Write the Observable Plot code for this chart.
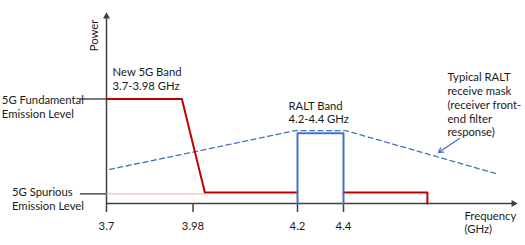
<!DOCTYPE html>
<html>
<head>
<meta charset="utf-8">
<script src="https://cdn.jsdelivr.net/npm/d3@7"></script>
<script src="https://cdn.jsdelivr.net/npm/@observablehq/plot@0.6"></script>
<style>
  html, body { margin: 0; padding: 0; background: #fff; }
  svg { display: block; }
</style>
</head>
<body>
<div id="chart"></div>
<script>
// Schematic frequency axis (GHz) and arbitrary power units
const xTicks = [3.7, 3.98, 4.2, 4.4];
const xTickLabels = ["3.7", "3.98", "4.2", "4.4"];

const fundamentalLevel = 55.3;
const spuriousLevel = 5.1;

// New 5G emission (red)
const emissionInBand = [
  {f: 3.7, p: 55.3}, {f: 3.944, p: 55.3}, {f: 4.005, p: 5.8}, {f: 4.2, p: 5.8}
];
const emissionAbove = [
  {f: 4.4, p: 5.8}, {f: 4.765, p: 5.8}, {f: 4.765, p: 0}
];
// faint spurious reference line
const spuriousRef = [{f: 3.7, p: 5.1}, {f: 4.005, p: 5.1}];

// RALT band (blue box)
const raltBand = [
  {f: 4.2, p: 0}, {f: 4.2, p: 37.2}, {f: 4.4, p: 37.2}, {f: 4.4, p: 0}
];

// Typical RALT receive mask (dashed)
const raltMask = [
  {f: 3.71, p: 18.0}, {f: 4.196, p: 38.6}, {f: 4.409, p: 38.6}, {f: 5.061, p: 15.9}
];

// annotation text
const labels = [
  {f: 3.3613, p: 57.8, text: "5G Fundamental\nEmission Level"},
  {f: 3.394, p: 8.9, text: "5G Spurious\nEmission Level"},
  {f: 3.7195, p: 72.4, text: "New 5G Band\n3.7-3.98 GHz"},
  {f: 4.181, p: 54.9, text: "RALT Band\n4.2-4.4 GHz"},
  {f: 4.852, p: 69.8, text: "Typical RALT\nreceive mask\n(receiver front-\nend filter\nresponse)"},
  {f: 4.926, p: -3.3, text: "Frequency\n(GHz)"}
];
const yLevels = [fundamentalLevel, spuriousLevel];
const pointer = [{f1: 4.905, p1: 34.4, f2: 4.813, p2: 27.0}];

const axisColor = "#404040";
const red = "#c00000";
const blue = "#4472c4";
const font = "Lato, 'Open Sans', sans-serif";

const chart = Plot.plot({
  width: 525,
  height: 245,
  marginTop: 14,
  marginBottom: 42,
  marginLeft: 106,
  marginRight: 8,
  style: {fontFamily: font, fontSize: "11px", color: "#1a1a1a", background: "#fff"},
  x: {type: "linear", domain: [3.7, 3.98, 4.2, 4.4, 5.157], range: [106, 192.5, 297, 343, 517]},
  y: {domain: [0, 100], axis: null},
  marks: [
    // axes lines
    Plot.ruleX([3.7], {y1: 0, y2: 99, stroke: axisColor, strokeWidth: 1.5}),
    Plot.ruleY([0], {x1: 3.7, x2: 5.14, stroke: axisColor, strokeWidth: 1.5}),
    Plot.dot([{f: 3.7, p: 99}], {x: "f", y: "p", symbol: "triangle", r: 2.6, fill: axisColor, stroke: null}),
    Plot.dot([{f: 5.14, p: 0}], {x: "f", y: "p", symbol: "triangle", r: 2.6, rotate: 90, fill: axisColor, stroke: null}),
    Plot.axisX({ticks: xTicks, tickFormat: (d, i) => xTickLabels[i], tickSize: 9, tickPadding: 9, stroke: axisColor, strokeWidth: 1.5, fontSize: 11.3, fill: "#1a1a1a"}),
    // y-level ticks
    Plot.ruleY(yLevels, {x1: 3.6155, x2: 3.7, stroke: "#222", strokeWidth: 1.2}),
    // spurious reference
    Plot.line(spuriousRef, {x: "f", y: "p", stroke: "#f2a5a5", strokeWidth: 1, strokeDasharray: "1,1"}),
    // mask
    Plot.line(raltMask, {x: "f", y: "p", stroke: blue, strokeWidth: 1.3, strokeDasharray: "5,3.5"}),
    // emissions
    Plot.line(emissionInBand, {x: "f", y: "p", stroke: red, strokeWidth: 2}),
    Plot.line(emissionAbove, {x: "f", y: "p", stroke: red, strokeWidth: 2}),
    // RALT band
    Plot.line(raltBand, {x: "f", y: "p", stroke: blue, strokeWidth: 2}),
    // pointer arrow
    Plot.arrow(pointer, {x1: "f1", y1: "p1", x2: "f2", y2: "p2", stroke: blue, strokeWidth: 1.3, headLength: 6}),
    // labels
    Plot.text(labels, {x: "f", y: "p", text: "text", textAnchor: "start", lineAnchor: "top", lineHeight: 1.22, fontSize: 11.3, fill: "#1a1a1a"}),
    Plot.text([{f: 3.661, p: 88.9, t: "Power"}], {x: "f", y: "p", text: "t", rotate: -90, textAnchor: "middle", lineAnchor: "middle", fontSize: 11.3, fill: "#1a1a1a"})
  ]
});
document.getElementById("chart").appendChild(chart);
</script>
</body>
</html>
